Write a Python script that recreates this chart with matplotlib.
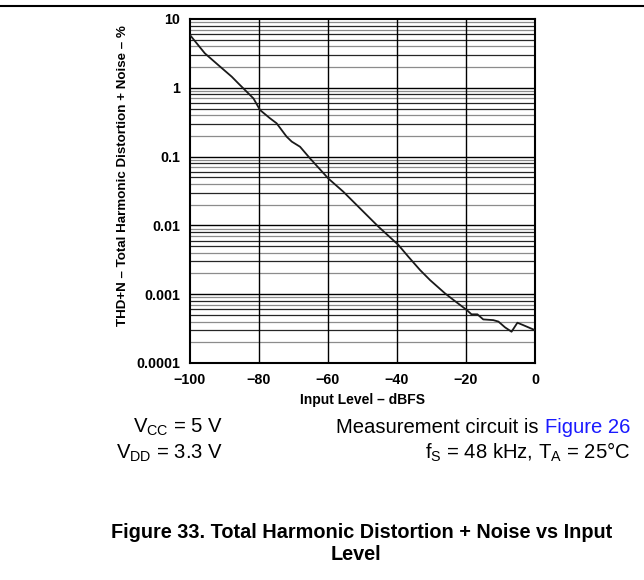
import matplotlib
matplotlib.use("Agg")
import matplotlib.pyplot as plt

plt.rcParams['font.family'] = ['Liberation Sans', 'DejaVu Sans']

# THD+N vs input level (dBFS -> %)
level_dbfs = [-100, -95.7, -91.8, -87.9, -86, -81.6, -79.7, -76.8, -74.9, -72,
              -70.5, -68.1, -65.2, -59.9, -55.6, -51.2, -45.4, -39.6, -36.7, -33.3,
              -30.4, -26.1, -23.7, -19.8, -18.4, -16.7, -15, -12.1, -10.6, -8.7,
              -6.8, -5.1, -3.4, 0]
thdn_pct = [5.85, 3.17, 2.14, 1.45, 1.16, 0.70, 0.475, 0.36, 0.305, 0.195,
            0.165, 0.139, 0.094, 0.048, 0.031, 0.0187, 0.0096, 0.0052, 0.0035, 0.00224,
            0.0016, 0.00103, 0.00083, 0.00059, 0.00051, 0.00051, 0.00043, 0.00042, 0.0004, 0.00033,
            0.000285, 0.000385, 0.000355, 0.0003]

x_ticks = [-100, -80, -60, -40, -20, 0]
x_labels = ['\u2212100', '\u221280', '\u221260', '\u221240', '\u221220', '0']
y_ticks = [0.0001, 0.001, 0.01, 0.1, 1, 10]
y_labels = ['0.0001', '0.001', '0.01', '0.1', '1', '10']

W, H = 644, 580
fig = plt.figure(figsize=(W / 100, H / 100), dpi=100)
ax = fig.add_axes([190 / W, 1 - 363 / H, 345 / W, 344 / H])

ax.set_yscale('log')
ax.set_xlim(-100, 0)
ax.set_ylim(0.0001, 10)

# decade grid black, in-between lines mixed grey/black
for dec in range(-4, 1):
    for m in range(2, 10):
        v = m * 10.0 ** dec
        c = '0.55' if m in (2, 4, 7, 9) else '0.15'
        ax.axhline(v, color=c, lw=0.9, zorder=1)
for v in y_ticks[1:-1]:
    ax.axhline(v, color='black', lw=1.0, zorder=1)
for v in x_ticks[1:-1]:
    ax.axvline(v, color='black', lw=1.0, zorder=1)

ax.plot(level_dbfs, thdn_pct, color='#1a1a1a', lw=1.3, zorder=3)

ax.set_xticks(x_ticks)
ax.set_xticklabels(x_labels)
ax.set_yticks(y_ticks)
ax.set_yticklabels(y_labels)
ax.yaxis.set_minor_locator(matplotlib.ticker.NullLocator())
ax.tick_params(length=0, labelsize=10.3)
ax.tick_params(axis='x', pad=7)
ax.tick_params(axis='y', pad=7)
for lab in ax.get_xticklabels() + ax.get_yticklabels():
    lab.set_fontweight('bold')
for s in ax.spines.values():
    s.set_linewidth(1.5)

fig.text(363 / W, 1 - 400 / H, 'Input Level \u2013 dBFS', fontsize=10,
         fontweight='bold', ha='center', va='center')
fig.text(123 / W, 1 - 176 / H, 'THD+N \u2013 Total Harmonic Distortion + Noise \u2013 %',
         rotation=90, fontsize=9.6, fontweight='bold', ha='center', va='center')

# rule across the top of the page
fig.add_artist(plt.Line2D([0, 1], [1 - 6 / H, 1 - 6 / H], color='black', lw=1.5))

fs = 14.6
fig.text(223 / W, 1 - 433 / H, r'V$_{\mathregular{CC}}$ = 5 V', fontsize=fs,
         ha='right', va='baseline')
fig.text(223 / W, 1 - 459 / H, r'V$_{\mathregular{DD}}$ = 3.3 V', fontsize=fs,
         ha='right', va='baseline')
link = fig.text(630 / W, 1 - 433 / H, 'Figure 26', fontsize=fs, color='#1a1aff',
                ha='right', va='baseline')
fig.canvas.draw()
x_link = link.get_window_extent().x0
fig.text(x_link / W, 1 - 433 / H, 'Measurement circuit is ', fontsize=fs,
         ha='right', va='baseline')
fig.text(630 / W, 1 - 459 / H,
         r'f$_{\mathregular{S}}$ = 48 kHz, T$_{\mathregular{A}}$ = 25°C',
         fontsize=fs, ha='right', va='baseline')

fig.text(362 / W, 1 - 532 / H, 'Figure 33. Total Harmonic Distortion + Noise vs Input',
         fontsize=14.3, fontweight='bold', ha='center', va='center')
fig.text(356 / W, 1 - 555 / H, 'Level',
         fontsize=14.3, fontweight='bold', ha='center', va='center')

fig.savefig('out.png', dpi=100)
